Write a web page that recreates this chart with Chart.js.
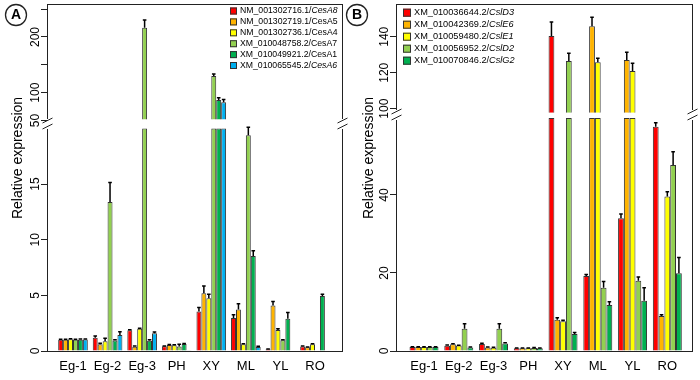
<!DOCTYPE html>
<html>
<head>
<meta charset="utf-8">
<script src="https://cdn.jsdelivr.net/npm/chart.js@4.4.1/dist/chart.umd.min.js"></script>
<style>
  html, body { margin: 0; padding: 0; background: #fff; }
  #wrap { position: relative; width: 700px; height: 380px; overflow: hidden; }
  #chartA { position: absolute; left: 0; top: 0; }
  #chartB { position: absolute; left: 340px; top: 0; }
</style>
</head>
<body>
<div id="wrap">
  <canvas id="chartA" width="350" height="380"></canvas>
  <canvas id="chartB" width="360" height="380"></canvas>
</div>
<script>
const categories = ['Eg-1', 'Eg-2', 'Eg-3', 'PH', 'XY', 'ML', 'YL', 'RO'];

// Panel A - CesA genes (mean and upper error)
const cesA8 = [1.0, 1.2, 1.86, 0.42, 3.56, 2.96, 0.16, 0.4];
const cesA8Err = [0.05, 0.15, 0.05, 0.03, 0.35, 0.3, 0.02, 0.05];
const cesA5 = [1.0, 0.6, 0.39, 0.54, 5.18, 3.74, 4.1, 0.33];
const cesA5Err = [0.05, 0.1, 0.05, 0.05, 0.66, 0.5, 0.35, 0.03];
const cesA4 = [1.05, 0.87, 2.0, 0.52, 4.73, 0.6, 1.89, 0.6];
const cesA4Err = [0.06, 0.27, 0.05, 0.05, 0.37, 0.05, 0.1, 0.05];
const cesA7 = [1.0, 13.4, 216.7, 0.4, 130, 19.4, 0.97, 0];
const cesA7Err = [0.05, 1.75, 14, 0.2, 3.6, 0.7, 0.05, 0];
const cesA1 = [1.02, 0.95, 0.93, 0.63, 86.9, 8.54, 2.9, 4.94];
const cesA1Err = [0.05, 0.05, 0.08, 0.05, 4, 0.47, 0.55, 0.15];
const cesA6 = [1.03, 1.44, 1.59, 0.06, 82.8, 0.37, 0, 0];
const cesA6Err = [0.05, 0.3, 0.12, 0, 5, 0.05, 0, 0];

const cesNames = ['NM_001302716.1/CesA8', 'NM_001302719.1/CesA5', 'NM_001302736.1/CesA4',
    'XM_010048758.2/CesA7', 'XM_010049921.2/CesA1', 'XM_010065545.2/CesA6'];
const cesItalic = [true, false, false, false, false, true];
const cesColors = ['#ff0000', '#ffb400', '#ffff00', '#92d050', '#00b050', '#00b0f0'];

// Panel B - Csl genes
const cslD3 = [1.0, 1.37, 1.8, 0.68, 140.4, 19.2, 34.0, 57.5];
const cslD3Err = [0.1, 0.2, 0.2, 0.1, 7.8, 0.4, 1.1, 1.0];
const cslE6 = [1.0, 1.7, 0.9, 0.68, 8.0, 145.8, 127.1, 9.0];
const cslE6Err = [0.1, 0.15, 0.1, 0.1, 0.5, 5, 4.3, 0.3];
const cslE1 = [1.0, 1.4, 0.85, 0.7, 7.6, 125.8, 121, 39.6];
const cslE1Err = [0.1, 0.1, 0.1, 0.1, 0.3, 2.2, 4.3, 1.2];
const cslD2 = [1.0, 5.7, 5.7, 0.8, 126.5, 16.2, 18.0, 47.7];
const cslD2Err = [0.1, 1.3, 1.3, 0.1, 4.3, 1.6, 1.0, 3.4];
const cslG2 = [1.0, 0.9, 1.9, 0.7, 4.36, 11.8, 12.9, 19.9];
const cslG2Err = [0.1, 0.1, 0.2, 0.1, 0.4, 0.8, 3.3, 4.1];

const cslNames = ['XM_010036644.2/CslD3', 'XM_010042369.2/CslE6', 'XM_010059480.2/CslE1',
    'XM_010056952.2/CslD2', 'XM_010070846.2/CslG2'];
const cslItalic = [true, true, true, true, true];
const cslColors = ['#ff0000', '#ffb400', '#ffff00', '#92d050', '#00b050'];

// Tick labels (lower / upper segment of the broken axis)
const ticksALow = [0, 5, 10, 15];
const ticksALowLabels = ['0', '5', '10', '15'];
const ticksAHigh = [50, 100, 150, 200, 250];
const ticksAHighLabels = ['50', '100', '', '200', ''];
const ticksBLow = [0, 20, 40];
const ticksBLowLabels = ['0', '20', '40'];
const ticksBHigh = [100, 120, 140];
const ticksBHighLabels = ['100', '120', '140'];

const FONT = '"Liberation Sans", Arial, sans-serif';
Chart.defaults.font.family = FONT;

const panelA = {
    letter: 'A', letterX: 16,
    values: [cesA8, cesA5, cesA4, cesA7, cesA1, cesA6],
    errors: [cesA8Err, cesA5Err, cesA4Err, cesA7Err, cesA1Err, cesA6Err],
    names: cesNames, italic: cesItalic, colors: cesColors,
    lowTicks: ticksALow, lowLabels: ticksALowLabels,
    highTicks: ticksAHigh, highLabels: ticksAHighLabels,
    lowMax: 20.4, highMin: 43.8, highMax: 259.2,
    lowClamp: 20, highBase: 52,
    lowWeight: 227, highWeight: 120,
    axisWidth: 48, padRight: 8,
    xMin: -0.723, xMax: 7.781, catPct: 6 / 7,
    titleX: 21.5,
    legendX: 230, legendY: 11, legendStep: 10.9, legendBox: 7, legendFont: 8.7
};

const panelB = {
    letter: 'B', letterX: 17,
    values: [cslD3, cslE6, cslE1, cslD2, cslG2],
    errors: [cslD3Err, cslE6Err, cslE1Err, cslD2Err, cslG2Err],
    names: cslNames, italic: cslItalic, colors: cslColors,
    lowTicks: ticksBLow, lowLabels: ticksBLowLabels,
    highTicks: ticksBHigh, highLabels: ticksBHighLabels,
    lowMax: 60.5, highMin: 96.5, highMax: 158.2,
    lowClamp: 59.7, highBase: 97.8,
    lowWeight: 236, highWeight: 111,
    axisWidth: 57, padRight: 8,
    xMin: -0.777, xMax: 7.71, catPct: 5 / 6,
    titleX: 32.5,
    legendX: 63, legendY: 12.7, legendStep: 12, legendBox: 8, legendFont: 9.2
};

function buildDatasets(p) {
    const sets = [];
    // lower part of every bar
    p.values.forEach((vals, k) => {
        sets.push({
            label: p.names[k],
            data: vals.map((v, i) => ({ x: i, y: Math.min(v, p.lowClamp) })),
            yAxisID: 'yLow',
            stack: 's' + k,
            backgroundColor: p.colors[k],
            borderColor: '#333',
            borderWidth: 1,
            borderSkipped: 'start'
        });
    });
    // part above the axis break
    p.values.forEach((vals, k) => {
        const pts = [];
        vals.forEach((v, i) => {
            if (v > p.highBase) pts.push({ x: i, y: [p.highBase, v] });
        });
        sets.push({
            label: p.names[k] + ' (high)',
            data: pts,
            yAxisID: 'yHigh',
            stack: 's' + k,
            backgroundColor: p.colors[k],
            borderColor: '#333',
            borderWidth: 1,
            borderSkipped: 'start'
        });
    });
    return sets;
}

// error bars, frame with break marks, tick labels, legend
function decorPlugin(p) {
    return {
        id: 'decor' + p.letter,
        afterDatasetsDraw(chart) {
            const ctx = chart.ctx;
            const yLow = chart.scales.yLow;
            const yHigh = chart.scales.yHigh;
            ctx.save();
            ctx.strokeStyle = '#000';
            ctx.lineWidth = 1.5;
            p.values.forEach((vals, k) => {
                const meta = chart.getDatasetMeta(k);
                vals.forEach((v, i) => {
                    const e = p.errors[k][i];
                    if (!e) return;
                    const scale = v > p.lowClamp ? yHigh : yLow;
                    const x = meta.data[i].x;
                    const y1 = scale.getPixelForValue(v);
                    const y2 = scale.getPixelForValue(v + e);
                    ctx.beginPath();
                    ctx.moveTo(x, y1);
                    ctx.lineTo(x, y2);
                    ctx.moveTo(x - 1.8, y2);
                    ctx.lineTo(x + 1.8, y2);
                    ctx.stroke();
                });
            });
            ctx.restore();
        },
        afterDraw(chart) {
            const ctx = chart.ctx;
            const { left, right, top, bottom } = chart.chartArea;
            const split = chart.scales.yLow.top;
            const l = Math.round(left) - 0.5;
            const r = Math.round(right) + 0.5;
            ctx.save();
            ctx.strokeStyle = '#222';
            ctx.lineWidth = 1;
            ctx.beginPath();
            ctx.moveTo(l, top + 0.5); ctx.lineTo(r, top + 0.5);
            ctx.moveTo(l, bottom + 0.5); ctx.lineTo(r, bottom + 0.5);
            [l, r].forEach(x => {
                ctx.moveTo(x, top); ctx.lineTo(x, split - 5);
                ctx.moveTo(x, split + 5); ctx.lineTo(x, bottom + 1);
                // break marks
                ctx.moveTo(x - 5, split - 1); ctx.lineTo(x + 5, split - 6);
                ctx.moveTo(x - 5, split + 5); ctx.lineTo(x + 5, split);
            });
            ctx.stroke();

            // y tick labels, rotated like the original
            ctx.fillStyle = '#000';
            ctx.font = '12px ' + FONT;
            ctx.textAlign = 'center';
            ctx.textBaseline = 'alphabetic';
            const lx = left - 9.4;
            [[chart.scales.yLow, p.lowTicks, p.lowLabels], [chart.scales.yHigh, p.highTicks, p.highLabels]]
                .forEach(([scale, vals, labels]) => {
                    vals.forEach((v, i) => {
                        if (!labels[i]) return;
                        ctx.save();
                        ctx.translate(lx, scale.getPixelForValue(v));
                        ctx.rotate(-Math.PI / 2);
                        ctx.fillText(labels[i], 0, 0);
                        ctx.restore();
                    });
                });

            // axis title
            ctx.save();
            ctx.font = '14px ' + FONT;
            ctx.translate(p.titleX, 158);
            ctx.rotate(-Math.PI / 2);
            ctx.fillText('Relative expression', 0, 0);
            ctx.restore();

            // panel letter
            ctx.beginPath();
            ctx.lineWidth = 1.3;
            ctx.arc(p.letterX, 15, 10.5, 0, Math.PI * 2);
            ctx.stroke();
            ctx.font = 'bold 14px ' + FONT;
            ctx.textBaseline = 'middle';
            ctx.fillText(p.letter, p.letterX, 15.5);

            // legend
            ctx.lineWidth = 1;
            ctx.textAlign = 'left';
            ctx.textBaseline = 'middle';
            p.names.forEach((name, k) => {
                const y = p.legendY + k * p.legendStep;
                const b = p.legendBox;
                ctx.fillStyle = p.colors[k];
                ctx.fillRect(p.legendX, y - b / 2, b, b);
                ctx.strokeStyle = '#333';
                ctx.strokeRect(p.legendX + 0.5, y - b / 2 + 0.5, b - 1, b - 1);
                const parts = name.split('/');
                const tx = p.legendX + b + 3;
                ctx.fillStyle = '#000';
                ctx.font = p.legendFont + 'px ' + FONT;
                ctx.fillText(parts[0] + '/', tx, y);
                const w = ctx.measureText(parts[0] + '/').width;
                ctx.font = (p.italic[k] ? 'italic ' : '') + p.legendFont + 'px ' + FONT;
                ctx.fillText(parts[1], tx + w, y);
            });
            ctx.restore();
        }
    };
}

function renderPanel(canvasId, p) {
    const ctx = document.getElementById(canvasId).getContext('2d');
    return new Chart(ctx, {
        type: 'bar',
        data: { datasets: buildDatasets(p) },
        options: {
            responsive: false,
            animation: false,
            events: [],
            categoryPercentage: p.catPct,
            barPercentage: 1,
            layout: { padding: { left: 0, right: p.padRight, top: 4, bottom: 0 } },
            plugins: { legend: { display: false }, tooltip: { enabled: false } },
            scales: {
                x: {
                    type: 'linear',
                    min: p.xMin,
                    max: p.xMax,
                    offset: false,
                    afterBuildTicks: s => { s.ticks = categories.map((c, i) => ({ value: i })); },
                    afterFit: s => { s.height = 29; },
                    grid: { display: false },
                    border: { display: false },
                    ticks: {
                        callback: v => categories[v],
                        font: { size: 13 },
                        color: '#000',
                        padding: 0,
                        maxRotation: 0,
                        autoSkip: false
                    }
                },
                yLow: {
                    type: 'linear',
                    position: 'left',
                    stack: 'v',
                    stackWeight: p.lowWeight,
                    weight: 1,
                    stacked: false,
                    min: 0,
                    max: p.lowMax,
                    afterBuildTicks: s => { s.ticks = p.lowTicks.map(v => ({ value: v })); },
                    afterFit: s => { s.width = p.axisWidth; },
                    ticks: { display: false },
                    grid: { drawOnChartArea: false, drawTicks: true, tickLength: 7, tickColor: '#222', tickWidth: 1 },
                    border: { display: false }
                },
                yHigh: {
                    type: 'linear',
                    position: 'left',
                    stack: 'v',
                    stackWeight: p.highWeight,
                    weight: 2,
                    stacked: false,
                    min: p.highMin,
                    max: p.highMax,
                    afterBuildTicks: s => { s.ticks = p.highTicks.map(v => ({ value: v })); },
                    afterFit: s => { s.width = p.axisWidth; },
                    ticks: { display: false },
                    grid: { drawOnChartArea: false, drawTicks: true, tickLength: 7, tickColor: '#222', tickWidth: 1 },
                    border: { display: false }
                }
            }
        },
        plugins: [decorPlugin(p)]
    });
}

renderPanel('chartA', panelA);
renderPanel('chartB', panelB);
</script>
</body>
</html>
